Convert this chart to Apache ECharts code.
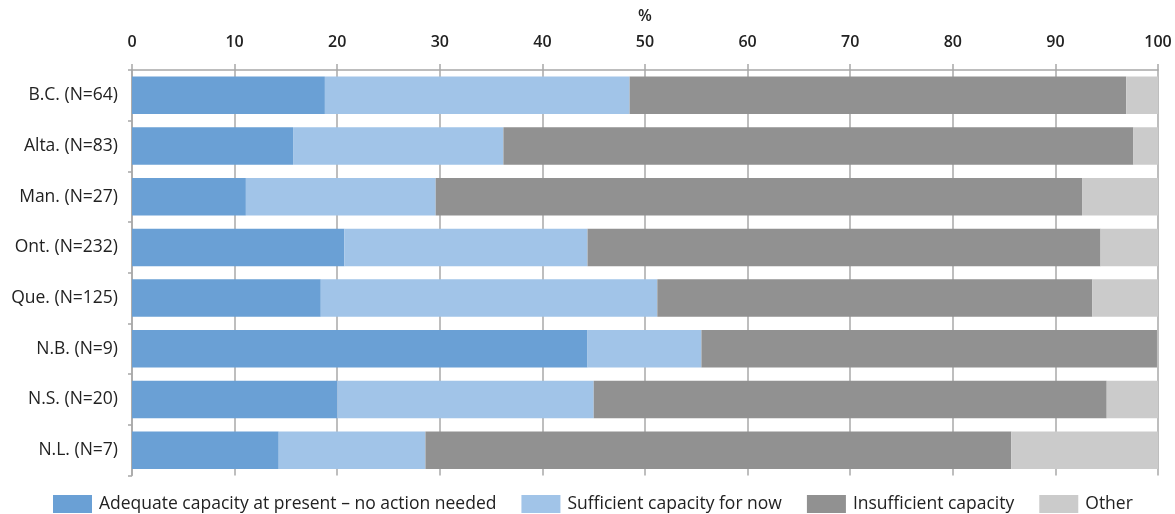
<!DOCTYPE html>
<html>
<head>
<meta charset="utf-8">
<script src="https://cdn.jsdelivr.net/npm/echarts@6/dist/echarts.min.js"></script>
<style>
  html, body { margin: 0; padding: 0; background: #fff; }
  #chart { width: 1175px; height: 514px; }
</style>
</head>
<body>
<div id="chart"></div>
<script>
// Provinces, top to bottom
const provinces = ['B.C. (N=64)', 'Alta. (N=83)', 'Man. (N=27)', 'Ont. (N=232)', 'Que. (N=125)', 'N.B. (N=9)', 'N.S. (N=20)', 'N.L. (N=7)'];

// Share of respondents (%) per response
const adequate     = [18.8, 15.7, 11.1, 20.7, 18.4, 44.4, 20.0, 14.3];
const sufficient   = [29.7, 20.5, 18.5, 23.7, 32.8, 11.1, 25.0, 14.3];
const insufficient = [48.4, 61.4, 63.0, 50.0, 42.4, 44.4, 50.0, 57.1];
const other        = [3.1, 2.4, 7.4, 5.6, 6.4, 0.0, 5.0, 14.3];

const seriesNames = ['Adequate capacity at present \u2013 no action needed', 'Sufficient capacity for now', 'Insufficient capacity', 'Other'];
const xTicks = [0, 10, 20, 30, 40, 50, 60, 70, 80, 90, 100];

const colors = ['#6aa0d5', '#a1c4e8', '#919191', '#cbcbcb'];
const font = 'Open Sans, Noto Sans, sans-serif';

const chart = echarts.init(document.getElementById('chart'), null, { renderer: 'canvas' });

const values = [adequate, sufficient, insufficient, other];

chart.setOption({
  animation: false,
  color: colors,
  grid: { left: 132, right: 17, top: 70, bottom: 38.5, containLabel: false },
  legend: {
    top: 495,
    left: 53,
    padding: 0,
    itemWidth: 39,
    itemHeight: 18,
    itemGap: 25,
    icon: 'rect',
    textStyle: { fontFamily: font, fontSize: 17.5, color: '#222', padding: [0, 0, 6, 2] },
    data: seriesNames
  },
  xAxis: {
    type: 'value',
    position: 'top',
    min: xTicks[0],
    max: xTicks[xTicks.length - 1],
    interval: 10,
    name: '%',
    nameLocation: 'middle',
    nameGap: 46,
    nameTextStyle: { fontFamily: font, fontSize: 16, fontWeight: 600, color: '#222' },
    axisLine: { show: true, lineStyle: { color: '#a8a8a8', width: 1.5 } },
    axisTick: { show: true, length: 6, lineStyle: { color: '#a8a8a8', width: 1.5 } },
    axisLabel: { fontFamily: font, fontSize: 16, fontWeight: 600, color: '#222', margin: 20 },
    splitLine: { show: true, lineStyle: { color: '#a8a8a8', width: 1.5 } }
  },
  yAxis: {
    type: 'category',
    inverse: true,
    data: provinces,
    axisLine: { show: true, lineStyle: { color: '#a8a8a8', width: 1.5 } },
    axisTick: { show: true, length: 4, lineStyle: { color: '#a8a8a8', width: 1.5 } },
    axisLabel: { fontFamily: font, fontSize: 17.5, color: '#222', margin: 14 }
  },
  series: seriesNames.map((name, i) => ({
    name: name,
    type: 'bar',
    stack: 'total',
    barWidth: '74%',
    data: values[i],
    itemStyle: { color: colors[i] }
  }))
});
</script>
</body>
</html>
